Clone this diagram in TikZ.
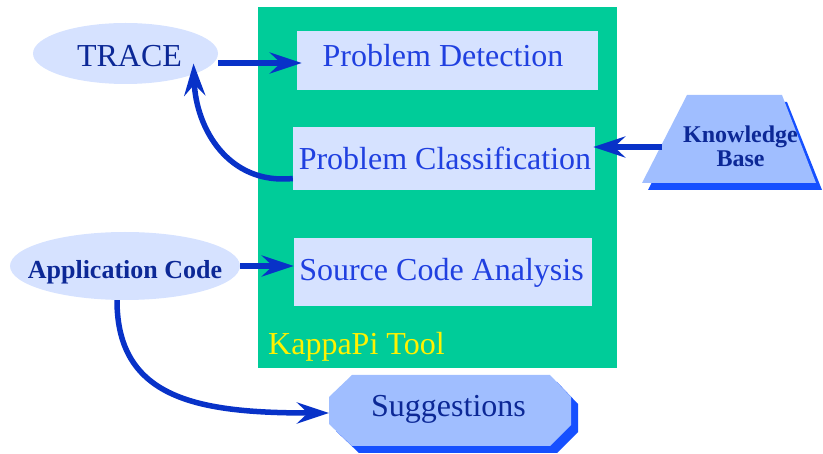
\documentclass[tikz,border=0pt]{standalone}
\usepackage{fontspec}
\setmainfont{Liberation Serif}
\usetikzlibrary{arrows.meta,shapes.geometric}

\definecolor{toolgreen}{RGB}{0,204,153}
\definecolor{boxfill}{RGB}{214,226,255}
\definecolor{boxtext}{RGB}{32,64,224}
\definecolor{navy}{RGB}{12,40,150}
\definecolor{shapefill}{RGB}{160,190,255}
\definecolor{shadowblue}{RGB}{22,80,255}
\definecolor{arrowblue}{RGB}{8,50,200}

\begin{document}
\begin{tikzpicture}[x=1pt,y=-1pt,
  stagebox/.style={rectangle, fill=boxfill, inner sep=0pt},
  stagetext/.style={anchor=base, inner sep=0pt, text=boxtext,
    font=\fontsize{32}{38}\selectfont},
  oval/.style={ellipse, fill=boxfill, inner sep=0pt},
  ovaltext/.style={anchor=base, inner sep=0pt, text=navy},
  kbtext/.style={anchor=base, inner sep=0pt, text=navy,
    font=\fontsize{24}{24}\selectfont\bfseries},
  arr/.style={draw=arrowblue, line width=5.5pt,
    -{Stealth[length=32pt,width=21pt,inset=11pt]}},
]
\useasboundingbox (0,0) rectangle (823,454);

% the KappaPi tool and its three stages
\node[rectangle, fill=toolgreen, minimum width=359pt, minimum height=361pt,
  inner sep=0pt] (tool) at (437.5,187.5) {};
\node[stagebox, minimum width=301pt, minimum height=59pt] (pd) at (447.5,60.5) {};
\node[stagebox, minimum width=302pt, minimum height=63pt] (pc) at (444,158.5) {};
\node[stagebox, minimum width=298pt, minimum height=68pt] (sca) at (443,272) {};
\node[stagetext] (pdtext) at (443,67) {Problem Detection};
\node[stagetext] (pctext) at (445,170) {Problem Classification};
\node[stagetext] (scatext) at (441.5,281) {Source Code Analysis};
\node[anchor=base west, text=yellow, inner sep=0pt,
  font=\fontsize{32}{38}\selectfont] (kappa) at (268,355) {KappaPi Tool};

% inputs
\node[oval, minimum width=185pt, minimum height=61pt] (trace) at (125.5,53.5) {};
\node[ovaltext, font=\fontsize{32}{38}\selectfont] (tracetext) at (129.5,67) {TRACE};
\node[oval, minimum width=230pt, minimum height=68pt] (app) at (125,266) {};
\node[ovaltext, font=\fontsize{26}{30}\selectfont\bfseries] (apptext) at (125,279) {Application Code};

% knowledge base trapezoid with its offset shadow
\fill[shadowblue] (692,102) -- (787,102) -- (822,190) -- (648,190) -- cycle;
\fill[shapefill] (687,95) -- (782,95) -- (816,183) -- (642,183) -- cycle;
\node[kbtext] (kb1) at (740.5,143) {Knowledge};
\node[kbtext] (kb2) at (740.5,167) {Base};
\coordinate (kbin) at (662,147);

% suggestions octagon with its offset shadow
\fill[shadowblue] (359,382) -- (557,382) -- (578,404) -- (578,432) -- (557,453)
  -- (359,453) -- (336,431) -- (336,404) -- cycle;
\fill[shapefill] (352,375) -- (550,375) -- (571,397) -- (571,425) -- (550,446)
  -- (352,446) -- (329,424) -- (329,397) -- cycle;
\node[anchor=base, text=navy, inner sep=0pt, font=\fontsize{32}{38}\selectfont] (sug) at (448.5,417) {Suggestions};
\coordinate (sugin) at (329,413);

% connectors
\draw[arr, shorten >=-5pt] (trace.east |- 0,63) -- (pd.west |- 0,63);
\draw[arr] ([yshift=-20pt]pc.west) .. controls (228,185) and (196,128) ..
  ([xshift=68pt,yshift=-10pt]trace.center);
\draw[arr, shorten >=-2pt] (kbin) -- (pc.east |- kbin);
\draw[arr] (app.east) -- (app.east -| sca.west);
\draw[arr] ([xshift=-8pt]app.south) .. controls (117,400) and (200,413) .. (sugin);
\end{tikzpicture}
\end{document}
